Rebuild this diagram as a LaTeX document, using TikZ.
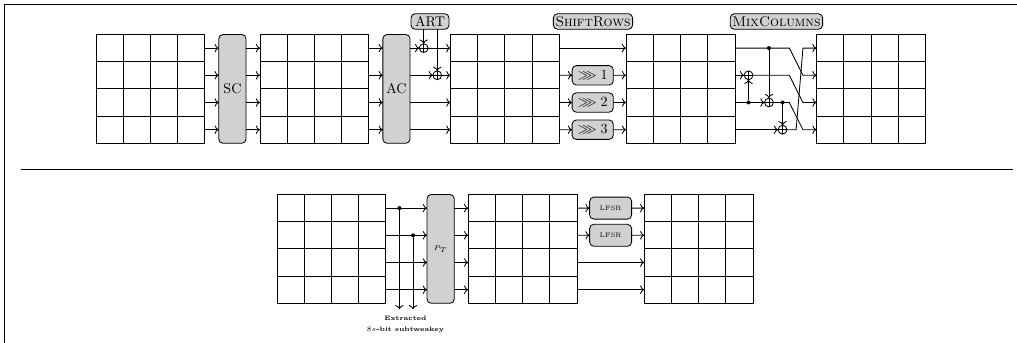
\documentclass[tikz,border=0pt]{standalone}
\usepackage{amsmath,amssymb}
\usepackage{tikz}
\usetikzlibrary{positioning,matrix,calc,arrows.meta}

\newcommand{\statemat}[2]{%
  \matrix (#1) [statemat, #2] {
    \& \& \& \\
    \& \& \& \\
    \& \& \& \\
    \& \& \& \\
  };}

\begin{document}
\begin{tikzpicture}[
  statemat/.style={matrix of nodes, nodes in empty cells, ampersand replacement=\&,
                   inner sep=0pt, outer sep=0pt,
                   row sep=-0.6pt, column sep=-0.6pt,
                   nodes={draw, minimum size=0.68cm, inner sep=0pt, outer sep=0pt}},
  sbox/.style={rectangle, draw, rounded corners=3pt, fill=black!18, align=center,
               minimum width=0.68cm, minimum height=2.72cm, inner sep=0pt, outer sep=0pt},
  rowbox/.style={rectangle, draw, rounded corners=3pt, fill=black!18,
                 minimum width=1.03cm, minimum height=0.485cm, inner sep=0pt, outer sep=0pt},
  lfsrbox/.style={rowbox, minimum width=1.05cm, minimum height=0.55cm,
                  font=\fontsize{4.6}{6}\selectfont},
  title/.style={rectangle, draw, rounded corners=3pt, fill=black!18,
                minimum height=0.39cm, inner sep=1.5pt, outer sep=0pt},
  xorgate/.style={circle, draw, minimum size=0.22cm, inner sep=0pt, outer sep=0pt,
                  path picture={
                    \draw (path picture bounding box.north) -- (path picture bounding box.south);
                    \draw (path picture bounding box.west) -- (path picture bounding box.east);}},
  dotnode/.style={circle, fill, minimum size=0.1cm, inner sep=0pt, outer sep=0pt},
  >={To[length=3pt,width=6pt]}, line width=0.6pt
]
  \useasboundingbox (0,0) rectangle (25.425,-8.575);

  \draw (0.11,-8.575) -- (0.11,-0.1) -- (25.425,-0.1);
  \draw (0.525,-4.225) -- (25.32,-4.225);

  \statemat{g1}{at={(3.76,-2.2225)}}
  \node[sbox, right=0.34cm of g1] (sc) {SC};
  \statemat{g2}{right=0.34cm of sc}
  \node[sbox, right=0.34cm of g2] (ac) {AC};
  \statemat{g3}{right=1cm of ac}
  \statemat{g4}{right=1.65cm of g3}
  \statemat{g5}{right=2.02cm of g4}

  \statemat{g6}{at={(8.285,-6.2225)}}
  \node[sbox, right=1.02cm of g6] (pt) {\tiny $P_T$};
  \statemat{g7}{right=0.34cm of pt}
  \statemat{g8}{right=1.66cm of g7}

  \node[title, minimum width=0.95cm] (art) at (10.75,-0.5375) {ART};
  \node[title] (shift) at (14.825,-0.5375) {\textsc{ShiftRows}};
  \node[title] (mix) at (19.41,-0.5375) {\textsc{MixColumns}};

  \foreach \r in {1,...,4} {
    \draw[->] (g1-\r-4.east) -- (g1-\r-4.east -| sc.west);
    \draw[->] (sc.east |- g2-\r-1.west) -- (g2-\r-1.west);
    \draw[->] (g2-\r-4.east) -- (g2-\r-4.east -| ac.west);
    \draw[->] (g6-\r-4.east) -- (g6-\r-4.east -| pt.west);
    \draw[->] (pt.east |- g7-\r-1.west) -- (g7-\r-1.west);
  }

  % AddRoundTweakey
  \node[xorgate] (xa) at ($(ac.east |- g3-1-1.west)+(0.34,0)$) {};
  \node[xorgate] (xb) at ($(ac.east |- g3-2-1.west)+(0.68,0)$) {};
  \draw[->] (ac.east |- xa) -- (xa);
  \draw[->] (ac.east |- xb) -- (xb);
  \draw[->] (xa) -- (g3-1-1.west);
  \draw[->] (xb) -- (g3-2-1.west);
  \draw[->] (ac.east |- g3-3-1.west) -- (g3-3-1.west);
  \draw[->] (ac.east |- g3-4-1.west) -- (g3-4-1.west);
  \draw[->] (art.south -| xa) -- (xa);
  \draw[->] (art.south -| xb) -- (xb);

  % ShiftRows
  \draw[->] (g3-1-4.east) -- (g4-1-1.west);
  \foreach \r/\n in {2/1,3/2,4/3} {
    \node[rowbox] (rot\n) at ($(g3-\r-4.east)!0.5!(g4-\r-1.west)$) {$\ggg\n$};
    \draw[->] (g3-\r-4.east) -- (rot\n);
    \draw[->] (rot\n) -- (g4-\r-1.west);
  }

  % MixColumns
  \node[xorgate] (ma) at ($(g4-2-4.east)+(0.34,0)$) {};
  \node[xorgate] (mb) at ($(g4-3-4.east)+(0.85,0)$) {};
  \node[xorgate] (mc) at ($(g4-4-4.east)+(1.19,0)$) {};
  \node[dotnode] (da) at (ma |- g4-3-4.east) {};
  \node[dotnode] (db) at (mb |- g4-1-4.east) {};
  \node[dotnode] (dc) at (mc |- g4-3-4.east) {};
  \foreach \r/\s in {1/2,2/3,3/4} {
    \coordinate (ba\r) at ($(g4-\r-4.east)+(1.36,0)$);
    \coordinate (bb\s) at ($(g5-\s-1.west)+(-0.34,0)$);
  }
  \coordinate (ba4) at ($(g4-4-4.east)+(1.53,0)$);
  \coordinate (bb1) at ($(g5-1-1.west)+(-0.34,0)$);

  \draw[->] (g4-1-4.east) -- (ba1) -- (bb2) -- (g5-2-1.west);
  \draw[->] (g4-2-4.east) -- (ma);
  \draw[->] (ma) -- (ba2) -- (bb3) -- (g5-3-1.west);
  \draw[->] (g4-3-4.east) -- (mb);
  \draw[->] (mb) -- (ba3) -- (bb4) -- (g5-4-1.west);
  \draw[->] (g4-4-4.east) -- (mc);
  \draw[->] (mc) -- (ba4) -- (bb1) -- (g5-1-1.west);
  \draw[->] (da) -- (ma);
  \draw[->] (db) -- (mb);
  \draw[->] (dc) -- (mc);

  % tweakey schedule
  \node[dotnode] (ea) at ($(g6-1-4.east)+(0.34,0)$) {};
  \node[dotnode] (eb) at ($(g6-2-4.east)+(0.68,0)$) {};
  \coordinate (ext) at ($(g6.south)+(0,-0.14)$);
  \draw[->] (ea) -- (ea |- ext);
  \draw[->] (eb) -- (eb |- ext);
  \node[font=\fontsize{4.6}{6}\selectfont, align=center, below=0.04cm of ext -| ea, xshift=0.15cm] (sub)
    {\textbf{Extracted}\\[2pt]$8s$\textbf{-bit subtweakey}};

  \foreach \r in {1,2} {
    \node[lfsrbox] (lf\r) at ($(g7-\r-4.east)!0.5!(g8-\r-1.west)$) {LFSR};
    \draw[->] (g7-\r-4.east) -- (lf\r);
    \draw[->] (lf\r) -- (g8-\r-1.west);
  }
  \draw[->] (g7-3-4.east) -- (g8-3-1.west);
  \draw[->] (g7-4-4.east) -- (g8-4-1.west);
\end{tikzpicture}
\end{document}
